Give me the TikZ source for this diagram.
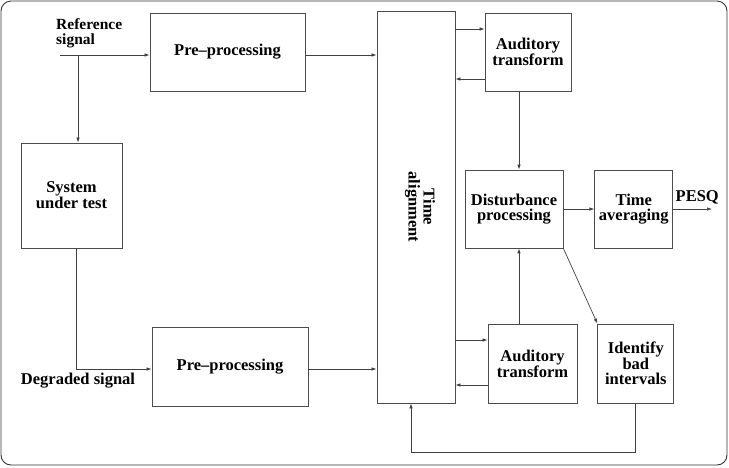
\documentclass[tikz,border=0pt]{standalone}
\usepackage{fontspec}
\setmainfont{Liberation Serif}
\usetikzlibrary{positioning}
\usetikzlibrary{arrows.meta, calc}

\begin{document}
\begin{tikzpicture}
  [
    x=1pt, y=-1pt,
    node distance=20pt,
    every node/.style={font=\fontsize{16.5}{15}\selectfont\bfseries},
    align=center
  ]
      \tikzset{
        >={Latex[width=3.5pt,length=5pt]},
        base/.style = {rectangle, draw=black!70, line width=0.8pt,
                       minimum width=78pt, minimum height=78pt,
                       text centered, inner sep=1pt},
        block/.style = {base},
        wire/.style = {draw=black!75, line width=0.7pt},
        frame/.style = {draw=black!80, line width=0.9pt, rounded corners=10pt},
    }
    \useasboundingbox (0,0) rectangle (729,467);
    \draw[frame] (1,1) rectangle (727,465);

    \node (pre1) [block, minimum width=155pt] at (227.5,52) {Pre--processing};
    \node (pre2) [block, minimum width=156pt, minimum height=79pt] at (230,366.5) {Pre--processing};
    \node (sut) [block, minimum width=101pt, minimum height=105pt] at (71.5,195.5) {System\\under test};
    \node (align) [base, minimum height=392pt] at (416,207) {};
    \node (alignlabel) [rotate=-90] at ([xshift=4pt]align.center) {Time\\alignment};
    \node (aud1) [block, minimum width=86pt] at (528,52) {Auditory\\transform};
    \node (dist) [block, minimum width=98pt] at (514,209) {Disturbance\\processing};
    \node (avg) [block, right=31pt of dist] {Time\\averaging};
    \node (aud2) [block, minimum width=89pt, minimum height=79pt] at (532.5,363.5) {Auditory\\transform};
    \node (bad) [block, minimum width=76pt, minimum height=79pt, right=of aud2] {Identify\\bad\\intervals};

    \node (reflabel) [anchor=north west, inner sep=0pt, align=left,
      font=\fontsize{15.5}{15}\selectfont\bfseries] at (56,18) {Reference\\signal};
    \node (deglabel) at (78,381) {Degraded signal};

    \coordinate (refin) at (60,55);
    \coordinate (branch) at (78,55);
    \coordinate (pesq) at (712,209);

    \draw[wire, ->] (refin) -- (refin -| pre1.west);
    \draw[wire, ->] (branch) -- (branch |- sut.north);
    \coordinate (sutout) at ([xshift=4.5pt]sut.south);
    \coordinate (pre2in) at ([yshift=-2.5pt]pre2.west);
    \draw[wire, ->] (sutout) |- (pre2in);
    \coordinate (pre1out) at ([yshift=-3pt]pre1.east);
    \draw[wire, ->] (pre1out) -- (pre1out -| align.west);
    \coordinate (pre2out) at ([yshift=-2.5pt]pre2.east);
    \draw[wire, ->] (pre2out) -- (pre2out -| align.west);

    \coordinate (a1in) at ([yshift=23pt]aud1.west);
    \coordinate (a1out) at ([yshift=-27pt]aud1.west);
    \draw[wire, ->] (a1in -| align.east) -- (a1in);
    \draw[wire, ->] (a1out) -- (a1out -| align.east);
    \coordinate (a2in) at ([yshift=23.5pt]aud2.west);
    \coordinate (a2out) at ([yshift=-21.5pt]aud2.west);
    \draw[wire, ->] (a2in -| align.east) -- (a2in);
    \draw[wire, ->] (a2out) -- (a2out -| align.east);

    \coordinate (a1down) at ([xshift=-9pt]aud1.south);
    \draw[wire, ->] (a1down) -- (a1down |- dist.north);
    \coordinate (a2up) at ([xshift=-13.5pt]aud2.north);
    \draw[wire, ->] (a2up) -- (a2up |- dist.south);

    \draw[wire, ->] (dist) -- (avg);
    \draw[wire, ->] (avg) -- (pesq) node[pos=0.62, above=1pt]{PESQ};
    \draw[wire, ->] (dist.south east) -- (bad.north west);
    \draw[wire, ->] (bad.south) -- ++(0,49) -| ([xshift=-5pt]align.south);
\end{tikzpicture}
\end{document}
